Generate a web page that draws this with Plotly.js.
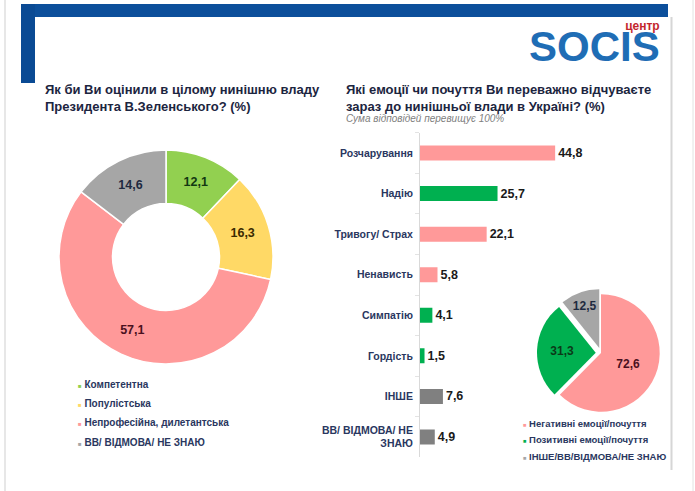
<!DOCTYPE html>
<html>
<head>
<meta charset="utf-8">
<script src="https://cdn.plot.ly/plotly-3.0.1.min.js"></script>
<style>
html,body{margin:0;padding:0;background:#fff;overflow:hidden;}
#chart{width:695px;height:491px;}
</style>
</head>
<body>
<div id="chart"></div>
<script>
// ---- data ----
const donutLabels = ['Компетентна', 'Популістська', 'Непрофесійна, дилетантська', 'ВВ/ ВІДМОВА/ НЕ ЗНАЮ'];
const donutValues = [12.1, 16.3, 57.1, 14.6];

const barCategories = ['Розчарування', 'Надію', 'Тривогу/ Страх', 'Ненависть', 'Симпатію', 'Гордість', 'ІНШЕ', 'ВВ/ ВІДМОВА/ НЕ<br>ЗНАЮ'];
const barValues = [44.8, 25.7, 22.1, 5.8, 4.1, 1.5, 7.6, 4.9];

const pieLabels = ['Негативні емоції/почуття', 'Позитивні емоції/почуття', 'ІНШЕ/ВВ/ВІДМОВА/НЕ ЗНАЮ'];
const pieValues = [72.6, 31.3, 12.5];

// ---- styles ----
const W = 695, H = 491;
const px = x => x / W;
const py = y => 1 - y / H;
const FONT = 'Liberation Sans, Arial, sans-serif';
const NAVY = '#2a3760';

const donutColors = ['#92D050', '#FFD966', '#FF9999', '#A6A6A6'];
const pieColors = ['#FF9999', '#00B050', '#A6A6A6'];
const barColors = ['#FF9999', '#00B050', '#FF9999', '#FF9999', '#00B050', '#00B050', '#808080', '#808080'];

const traces = [
  {
    type: 'pie',
    labels: donutLabels,
    values: donutValues,
    hole: 0.5,
    sort: false,
    direction: 'clockwise',
    rotation: 0,
    marker: {colors: donutColors, line: {color: '#ffffff', width: 1.5}},
    texttemplate: '%{value:.1f}',
    textposition: 'inside',
    insidetextorientation: 'horizontal',
    textfont: {family: FONT, size: 12.5, color: ['#123812', '#3a2a00', '#4a1020', '#1e2a40'], weight: 'bold'},
    domain: {x: [px(59), px(273)], y: [py(364), py(150)]},
    showlegend: false,
    hoverinfo: 'none'
  },
  {
    type: 'bar',
    orientation: 'h',
    x: barValues,
    y: barCategories,
    marker: {color: barColors},
    width: 0.37,
    texttemplate: '%{x:.1f}',
    textposition: 'outside',
    cliponaxis: false,
    textfont: {family: FONT, size: 12.5, color: '#1a1a1a', weight: 'bold'},
    xaxis: 'x',
    yaxis: 'y',
    showlegend: false,
    hoverinfo: 'none'
  },
  {
    type: 'pie',
    labels: pieLabels,
    values: pieValues,
    sort: false,
    direction: 'clockwise',
    rotation: 0,
    pull: [0, 0.09, 0.09],
    marker: {colors: pieColors, line: {color: '#ffffff', width: 0}},
    texttemplate: '%{value:.1f}',
    textposition: 'inside',
    insidetextorientation: 'horizontal',
    textfont: {family: FONT, size: 12, color: ['#4a1020', '#0b3a18', '#1e2a40'], weight: 'bold'},
    domain: {x: [px(537), px(665)], y: [py(417), py(289)]},
    showlegend: false,
    hoverinfo: 'none'
  }
];

const shapes = [
  {type: 'line', xref: 'paper', yref: 'paper', x0: px(5), x1: px(5), y0: 0, y1: 1, line: {color: '#cfcfcf', width: 1}},
  {type: 'line', xref: 'paper', yref: 'paper', x0: px(693), x1: px(693), y0: 0, y1: 1, line: {color: '#e2e2e2', width: 1}},
  {type: 'line', xref: 'paper', yref: 'paper', x0: px(671.5), x1: px(671.5), y0: py(17), y1: py(470), line: {color: '#d6d6d6', width: 2}},
  {type: 'rect', xref: 'paper', yref: 'paper', x0: px(21), x1: px(668), y0: py(17), y1: py(4), fillcolor: '#0c4f9b', line: {width: 0}},
  {type: 'rect', xref: 'paper', yref: 'paper', x0: px(21), x1: px(35), y0: py(83), y1: py(4), fillcolor: '#0a4a94', line: {width: 0}}
];

const annotations = [
  {text: 'Як би Ви оцінили в цілому нинішню владу<br>Президента В.Зеленського? (%)', x: px(43), y: py(80), xanchor: 'left', yanchor: 'top', align: 'left',
   font: {family: FONT, size: 13, color: '#1c2540', weight: 'bold'}},
  {text: 'Які емоції чи почуття Ви переважно відчуваєте<br>зараз до нинішньої влади в Україні? (%)', x: px(344), y: py(80), xanchor: 'left', yanchor: 'top', align: 'left',
   font: {family: FONT, size: 13, color: '#1c2540', weight: 'bold'}},
  {text: '<i>Сума відповідей перевищує 100%</i>', x: px(344), y: py(111), xanchor: 'left', yanchor: 'top', align: 'left',
   font: {family: FONT, size: 10, color: '#808080'}},
  // logo: one text block (small red word above the big blue name)
  {text: 'центр<br>\u00a0<br><span style="font-size:42px;color:#1f6db5">SOCIS</span>', x: px(662), y: py(17), xanchor: 'right', yanchor: 'top', align: 'right',
   font: {family: FONT, size: 12, color: '#c3262c', weight: 'bold'}}
];

// legends drawn as text built from the label arrays
function legendLines(labels, colors, x, y0, dy, size) {
  labels.forEach((lab, i) => {
    annotations.push({
      text: '<span style="color:' + colors[i] + ';font-size:' + (size * 0.6) + 'px">■</span> ' + lab,
      x: px(x), y: py(y0 + i * dy), xanchor: 'left', yanchor: 'middle', align: 'left',
      font: {family: FONT, size: size, color: NAVY, weight: 'bold'}
    });
  });
}
legendLines(donutLabels, donutColors, 76, 384.5, 19.2, 10);
legendLines(pieLabels, pieColors, 521, 423, 16.5, 9.5);

annotations.forEach(a => { a.xref = 'paper'; a.yref = 'paper'; a.showarrow = false; });

const layout = {
  width: W, height: H,
  margin: {l: 0, r: 0, t: 0, b: 0},
  paper_bgcolor: '#ffffff',
  plot_bgcolor: 'rgba(0,0,0,0)',
  separators: ', ',
  font: {family: FONT, color: NAVY},
  xaxis: {
    domain: [px(420), px(601)],
    range: [0, 60],
    visible: false,
    fixedrange: true
  },
  yaxis: {
    domain: [py(457.3), py(132.7)],
    autorange: 'reversed',
    type: 'category',
    showline: true,
    linecolor: '#d9d9d9',
    linewidth: 1,
    ticks: 'outside',
    tickson: 'boundaries',
    ticklen: 4,
    tickcolor: '#e3e3e3',
    showgrid: false,
    zeroline: false,
    ticklabelstandoff: 4,
    tickfont: {family: FONT, size: 10.5, color: NAVY, weight: 'bold'},
    fixedrange: true
  },
  shapes: shapes,
  annotations: annotations,
  showlegend: false
};

Plotly.newPlot('chart', traces, layout, {displayModeBar: false, staticPlot: true});
</script>
</body>
</html>
